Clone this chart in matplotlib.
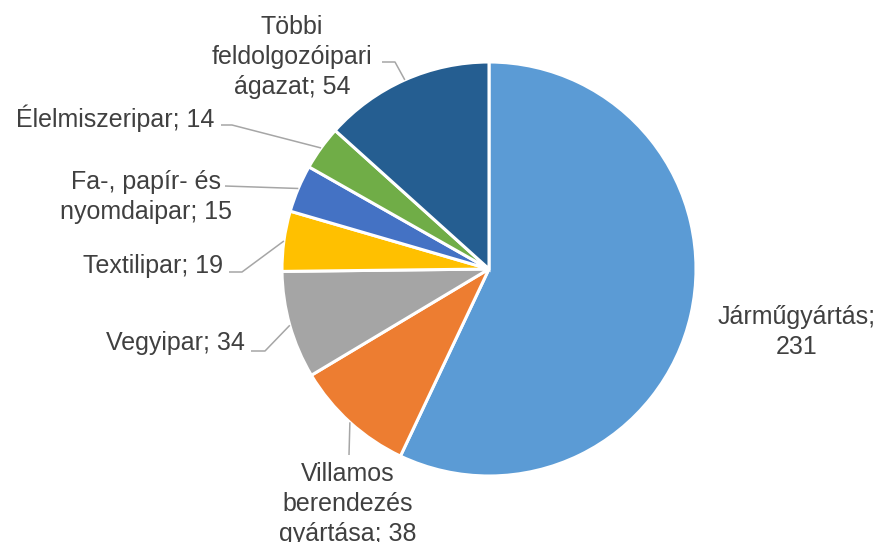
import numpy as np
import matplotlib.pyplot as plt

plt.rcParams['font.family'] = ['Liberation Sans', 'DejaVu Sans']

labels = ['Járműgyártás', 'Villamos\nberendezés\ngyártása', 'Vegyipar', 'Textilipar',
          'Fa-, papír- és\nnyomdaipar', 'Élelmiszeripar', 'Többi\nfeldolgozóipari\nágazat']
values = [231, 38, 34, 19, 15, 14, 54]
colors = ['#5B9BD5', '#ED7D31', '#A5A5A5', '#FFC000', '#4472C4', '#70AD47', '#255E91']

W, H = 877, 542
fig = plt.figure(figsize=(W / 100, H / 100), dpi=100)
ax = fig.add_axes([0, 0, 1, 1])

cx, cy, r = 489, H - 269, 207
ax.pie(values, colors=colors, startangle=90, counterclock=False, center=(cx, cy), radius=r,
       wedgeprops=dict(edgecolor='white', linewidth=2.2), frame=True)
ax.set_xlim(0, W)
ax.set_ylim(0, H)
ax.set_aspect('equal')
ax.axis('off')

# label text position (pixel, y down), alignment, elbow points of leader (None = no line)
layout = [
    ((797, 332), 'center', None),
    ((348, 504), 'center', [(349, 455)]),
    ((245, 343), 'right', [(265, 351), (251, 351)]),
    ((223, 266), 'right', [(242, 272), (229, 272)]),
    ((146, 197), 'center', [(225, 186)]),
    ((214, 118), 'right', [(232, 125), (221, 125)]),
    ((292, 57), 'center', [(395, 62), (382, 62)]),
]

total = sum(values)
cum = np.cumsum([0] + values)
txtc = '#404040'
for i, (lab, v) in enumerate(zip(labels, values)):
    mid = 90 - (cum[i] + v / 2) / total * 360
    ex = cx + r * np.cos(np.radians(mid))
    ey = cy + r * np.sin(np.radians(mid))
    (tx, ty), ha, elbow = layout[i]
    if lab == 'Járműgyártás':
        s = lab + ';\n' + str(v)
    else:
        s = lab + '; ' + str(v)
    ax.text(tx, H - ty, s, ha=ha, va='center', multialignment='center',
            fontsize=18, color=txtc, linespacing=1.3)
    if elbow:
        xs = [ex] + [p[0] for p in elbow]
        ys = [ey] + [H - p[1] for p in elbow]
        ax.plot(xs, ys, color='#A6A6A6', lw=1.1, solid_capstyle='butt')

fig.savefig('out.png', dpi=100)
